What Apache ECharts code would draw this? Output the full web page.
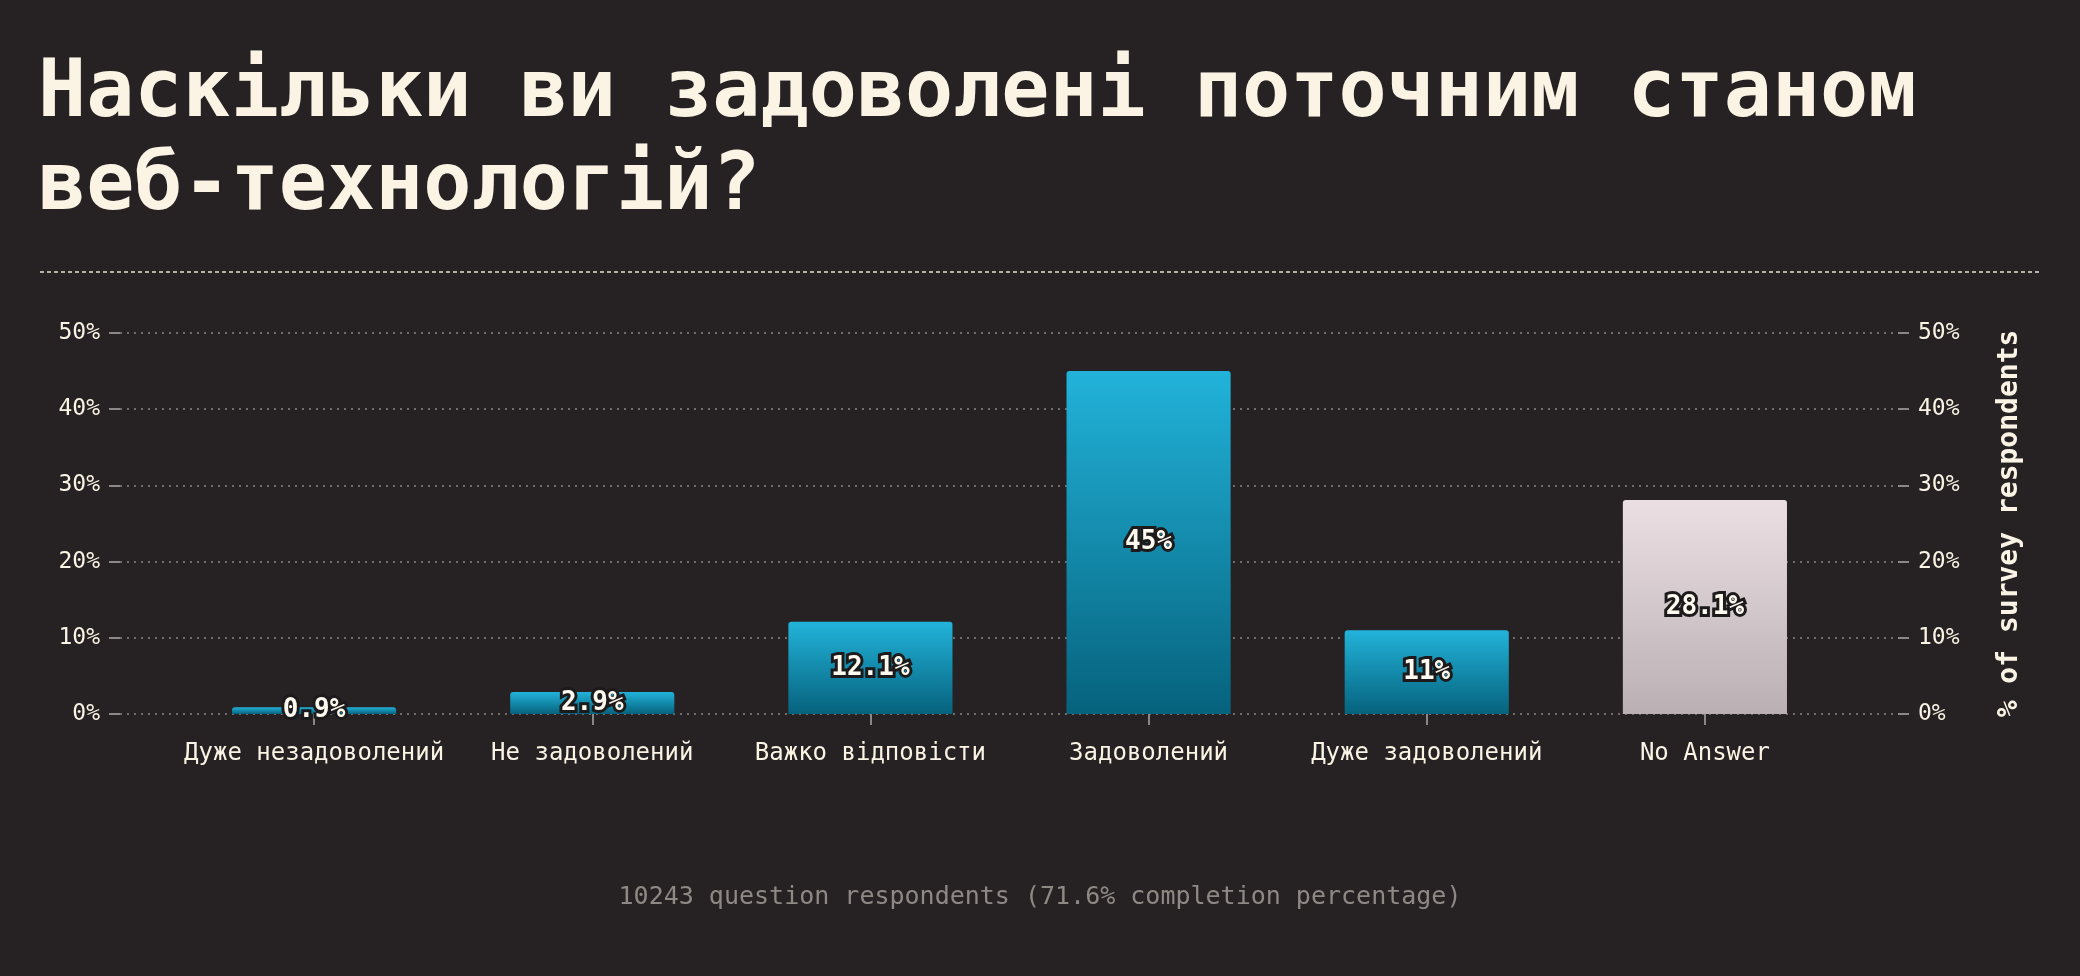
<!DOCTYPE html>
<html>
<head>
<meta charset="utf-8">
<script src="https://cdn.jsdelivr.net/npm/echarts@6/dist/echarts.min.js"></script>
<style>
html,body{margin:0;padding:0;background:#262223;}
#c{width:2080px;height:976px;}
</style>
</head>
<body>
<div id="c"></div>
<script>
const titleText = 'Наскільки ви задоволені поточним станом\nвеб-технологій?';
const categories = ['Дуже незадоволений', 'Не задоволений', 'Важко відповісти', 'Задоволений', 'Дуже задоволений', 'No Answer'];
const values = [0.9, 2.9, 12.1, 45, 11, 28.1];
const yMin = 0, yMax = 50, yStep = 10;
const yAxisName = '% of survey respondents';
const footerText = '10243 question respondents (71.6% completion percentage)';

const MONO = '"DejaVu Sans Mono", "Liberation Mono", monospace';
const CREAM = '#fbf3e4';
const teal = {type:'linear',x:0,y:0,x2:0,y2:1,colorStops:[{offset:0,color:'#22b3da'},{offset:1,color:'#06627d'}]};
const grey = {type:'linear',x:0,y:0,x2:0,y2:1,colorStops:[{offset:0,color:'#ebdfe4'},{offset:1,color:'#bab0b3'}]};

const chart = echarts.init(document.getElementById('c'), null, {renderer:'canvas'});

const gridTop = 333, gridBottom = 262;
const yAxisCommon = {
  type:'value', min:yMin, max:yMax, interval:yStep,
  axisLine:{show:false},
  axisTick:{show:true, length:11, lineStyle:{color:'#8c8786', width:2}},
  axisLabel:{color:CREAM, fontFamily:MONO, fontSize:23, margin:20, formatter:'{value}%'},
  splitLine:{show:true, lineStyle:{color:'#8c8786', type:[2,5], width:1.5}}
};

chart.setOption({
  backgroundColor:'#262223',
  animation:false,
  title:{
    text:titleText, left:38, top:49, padding:0,
    textStyle:{color:CREAM, fontFamily:MONO, fontWeight:'bold', fontSize:80, lineHeight:93}
  },
  graphic:[
    {type:'line', shape:{x1:40,y1:272,x2:2040,y2:272}, style:{stroke:'#e9e1d2', lineWidth:1.5, lineDash:[4,3]}},
    {type:'text', left:'center', top:885, style:{text:footerText, fill:'#8e8985', font:'25px ' + MONO}}
  ],
  grid:[
    {left:120, right:182, top:gridTop, bottom:gridBottom},
    {left:175, right:236, top:gridTop, bottom:gridBottom}
  ],
  xAxis:[
    {gridIndex:0, type:'value', min:0, max:1, show:false},
    {gridIndex:1, type:'category', data:categories,
     axisLine:{show:false},
     axisTick:{show:true, alignWithLabel:true, length:11, lineStyle:{color:'#8c8786', width:2}},
     axisLabel:{color:CREAM, fontFamily:MONO, fontSize:24, margin:28, interval:0}}
  ],
  yAxis:[
    Object.assign({gridIndex:0, position:'left'}, yAxisCommon),
    Object.assign({gridIndex:0, position:'right',
      name:yAxisName, nameLocation:'middle', nameRotate:90, nameGap:98,
      nameTextStyle:{color:CREAM, fontFamily:MONO, fontWeight:'bold', fontSize:28}}, yAxisCommon, {splitLine:{show:false}}),
    {gridIndex:1, type:'value', min:yMin, max:yMax, interval:yStep, show:false}
  ],
  series:[{
    type:'bar', xAxisIndex:1, yAxisIndex:2,
    barWidth:'59%',
    data:values.map((v,i)=>({value:v, itemStyle:{color: categories[i]==='No Answer' ? grey : teal, borderRadius:[3,3,0,0]}})),
    label:{show:true, position:'inside', formatter:'{c}%', color:'#fffaf0', fontFamily:MONO, fontWeight:'bold', fontSize:26,
           textBorderColor:'#1c1a1b', textBorderWidth:6}
  }]
});
</script>
</body>
</html>
